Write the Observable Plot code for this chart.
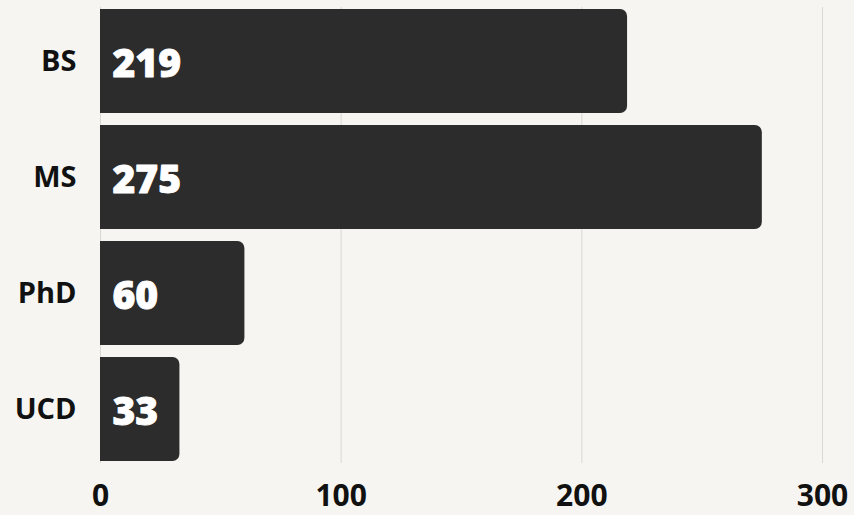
<!DOCTYPE html>
<html><head><meta charset="utf-8">
<script src="https://cdn.jsdelivr.net/npm/d3@7"></script>
<script src="https://cdn.jsdelivr.net/npm/@observablehq/plot@0.6"></script>
<style>
html,body{margin:0;padding:0;background:#f6f5f1;}
#chart svg{display:block;}
</style>
</head><body><div id="chart"></div>
<script>
const categories = ["BS", "MS", "PhD", "UCD"];
const counts = [219, 275, 60, 33];
const xTicks = [0, 100, 200, 300];
const data = categories.map((c, i) => ({degree: c, count: counts[i]}));

const chart = Plot.plot({
  width: 854,
  height: 515,
  marginLeft: 100,
  marginRight: 32,
  marginTop: 7,
  marginBottom: 52,
  style: {background: "#f6f5f1", fontFamily: "'Open Sans', sans-serif", color: "#111"},
  x: {domain: [0, 300], ticks: xTicks, label: null},
  y: {domain: categories, label: null, paddingInner: 0.1, paddingOuter: 0},
  marks: [
    Plot.gridX(xTicks, {stroke: "#d9d8d4", strokeOpacity: 1, strokeWidth: 1}),
    Plot.barX(data, {y: "degree", x: "count", fill: "#2c2c2c", rx: 7}),
    Plot.barX(data, {y: "degree", x1: 0, x2: d => d.count / 2, fill: "#2c2c2c"}),
    Plot.text(data, {y: "degree", x: 0, text: d => String(d.count), textAnchor: "start", dx: 12, dy: 3, fill: "#fff", fontSize: 39, fontWeight: 900, stroke: "#fff", strokeWidth: 0.9}),
    Plot.axisY({tickSize: 0, tickPadding: 24, fontSize: 29, fontWeight: 700, fill: "#111"}),
    Plot.axisX(xTicks, {tickSize: 0, tickPadding: 21, fontSize: 30, fontWeight: 700, fill: "#111"})
  ]
});
document.getElementById("chart").append(chart);
</script>
</body></html>
